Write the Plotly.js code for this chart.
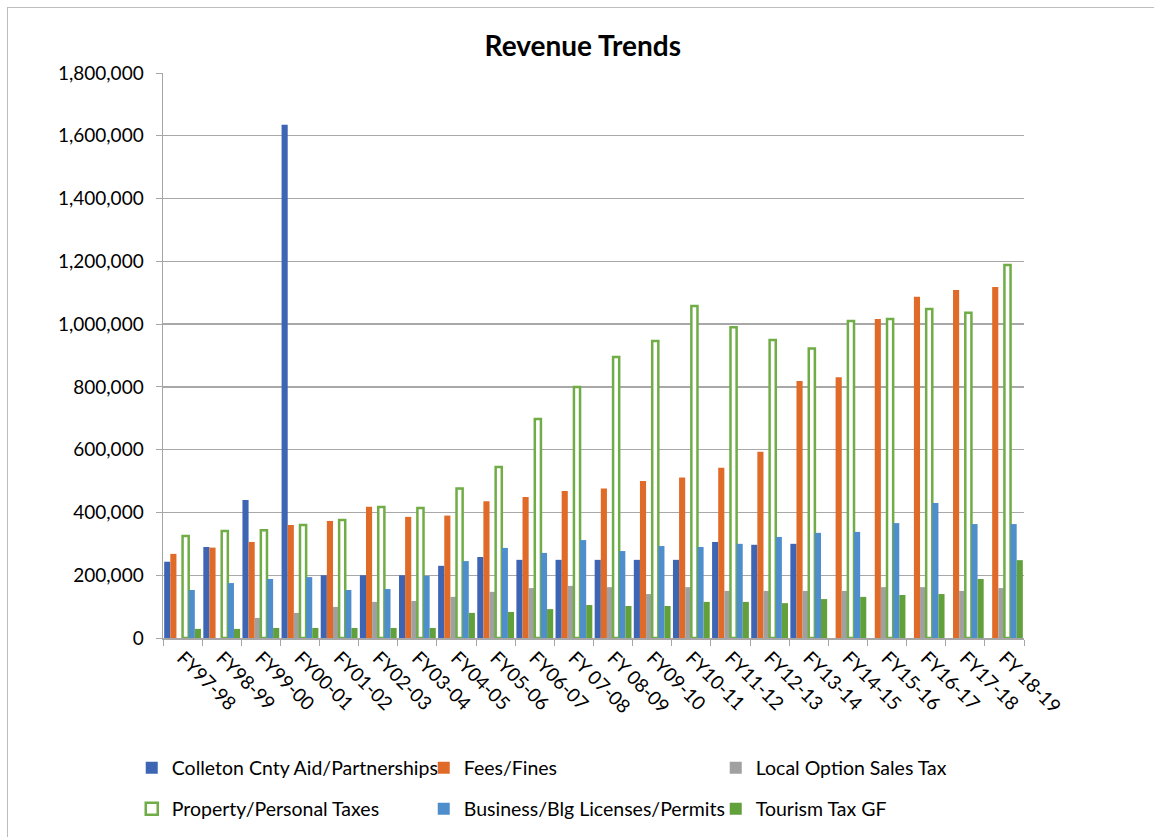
<!DOCTYPE html>
<html>
<head>
<meta charset="utf-8">
<script src="https://cdn.plot.ly/plotly-3.0.1.min.js"></script>
<style>
  html, body { margin: 0; padding: 0; background: #ffffff; width: 1154px; height: 837px; overflow: hidden; }
  #frame { position: absolute; left: 7px; top: 7px; width: 1300px; height: 1000px;
           border-left: 1.5px solid #bdbdbd; border-top: 1.5px solid #bdbdbd; }
  #chart { position: absolute; left: 0; top: 0; width: 1154px; height: 837px; }
</style>
</head>
<body>
<div id="frame"></div>
<div id="chart"></div>
<script>
const categories = ['FY97-98','FY98-99','FY99-00','FY00-01','FY01-02','FY02-03','FY03-04','FY04-05','FY05-06','FY06-07','FY 07-08','FY 08-09','FY09-10','FY10-11','FY11-12','FY12-13','FY13-14','FY14-15','FY15-16','FY16-17','FY17-18','FY 18-19'];

const colletonAid = [243000, 290000, 440000, 1635000, 200000, 200000, 200000, 230000, 258000, 249000, 249000, 249000, 249000, 249000, 306000, 297000, 300000, null, null, null, null, null];
const feesFines = [268000, 288000, 306000, 360000, 373000, 418000, 386000, 390000, 436000, 449000, 468000, 476000, 500000, 511000, 542000, 593000, 819000, 831000, 1016000, 1087000, 1109000, 1118000];
const localOptionSalesTax = [0, 0, 64000, 80000, 99000, 115000, 118000, 131000, 147000, 159000, 166000, 162000, 140000, 162000, 150000, 150000, 150000, 150000, 162000, 162000, 150000, 159000];
const propertyTaxes = [325000, 341000, 343000, 360000, 376000, 417000, 414000, 476000, 545000, 698000, 800000, 895000, 946000, 1058000, 990000, 949000, 922000, 1010000, 1016000, 1048000, 1036000, 1188000];
const businessLicenses = [153000, 175000, 188000, 194000, 153000, 156000, 198000, 245000, 287000, 271000, 312000, 277000, 293000, 290000, 300000, 322000, 335000, 338000, 366000, 430000, 363000, 363000];
const tourismTax = [29000, 29000, 32000, 32000, 32000, 32000, 32000, 80000, 83000, 92000, 105000, 102000, 102000, 115000, 115000, 111000, 124000, 131000, 137000, 140000, 188000, 248000];

const seriesNames = ['Colleton Cnty Aid/Partnerships','Fees/Fines','Local Option Sales Tax','Property/Personal Taxes','Business/Blg Licenses/Permits','Tourism Tax GF'];
const yTickValues = [0, 200000, 400000, 600000, 800000, 1000000, 1200000, 1400000, 1600000, 1800000];

const FONT = 'Lato, "Open Sans", sans-serif';

function bar(name, values, color, legend, extra) {
  const t = {
    type: 'bar', name: name, x: categories, y: values,
    marker: { color: color, line: { width: 0 } },
    legend: legend,
    hoverinfo: 'x+y+name'
  };
  return Object.assign(t, extra || {});
}

const data = [
  bar(seriesNames[0], colletonAid, '#3d65b4', 'legend'),
  bar(seriesNames[1], feesFines, '#e06b28', 'legend'),
  bar(seriesNames[2], localOptionSalesTax, '#a0a0a0', 'legend'),
  bar(seriesNames[3], propertyTaxes, '#ffffff', 'legend2', { marker: { color: 'rgba(255,255,255,1)', line: { color: '#70ad47', width: 2.5 } } }),
  bar(seriesNames[4], businessLicenses, '#4f8ecd', 'legend2'),
  bar(seriesNames[5], tourismTax, '#62a03c', 'legend2')
];

const legendCommon = {
  orientation: 'h', xanchor: 'left', yanchor: 'middle',
  entrywidth: 247, entrywidthmode: 'pixels',
  font: { family: FONT, size: 19.5, color: '#000' },
  bgcolor: 'rgba(0,0,0,0)', borderwidth: 0,
  itemclick: false, itemdoubleclick: false
};

const layout = {
  width: 1154, height: 837,
  margin: { l: 163, r: 130, t: 73, b: 199, autoexpand: false },
  paper_bgcolor: 'rgba(0,0,0,0)',
  plot_bgcolor: 'rgba(0,0,0,0)',
  font: { family: FONT, size: 19, color: '#000' },
  title: { text: '<b>Revenue Trends</b>', font: { family: FONT, size: 28, color: '#000' },
           x: 0.505, xanchor: 'center', y: 0.945, yanchor: 'middle' },
  barmode: 'group', bargap: 0.06, bargroupgap: 0,
  showlegend: true,
  xaxis: {
    type: 'category',
    tickangle: 45,
    automargin: false,
    ticks: 'outside', ticklen: 6, tickwidth: 1, tickcolor: '#a6a6a6',
    tickson: 'boundaries',
    showline: true, linecolor: '#a6a6a6', linewidth: 1.5,
    showgrid: false,
    tickfont: { family: FONT, size: 19, color: '#000' },
    fixedrange: true
  },
  yaxis: {
    range: [0, 1800000],
    automargin: false,
    tickvals: yTickValues,
    tickformat: ',d',
    ticks: 'outside', ticklen: 6, tickwidth: 1, tickcolor: '#a6a6a6',
    showline: true, linecolor: '#a6a6a6', linewidth: 1.5,
    showgrid: true, gridcolor: '#a8a8a8', gridwidth: 1.4,
    zeroline: false,
    tickfont: { family: FONT, size: 19, color: '#000' },
    ticklabelstandoff: 8,
    fixedrange: true
  },
  legend: Object.assign({}, legendCommon, { x: -0.0363, y: -0.2301 }),
  legend2: Object.assign({}, legendCommon, { x: -0.0363, y: -0.3027 })
};

Plotly.newPlot('chart', data, layout, { displayModeBar: false, staticPlot: true });
</script>
</body>
</html>
